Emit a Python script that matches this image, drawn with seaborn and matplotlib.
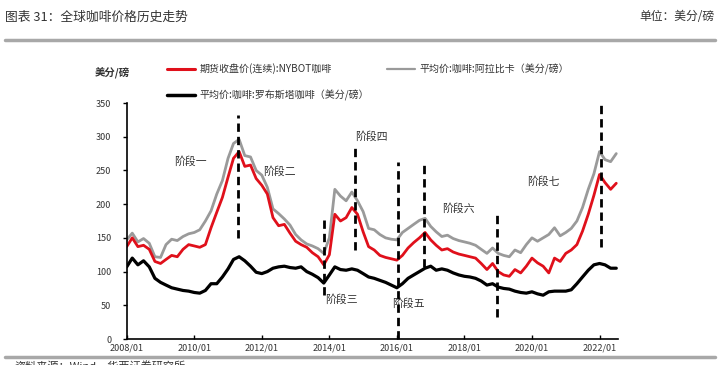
import numpy as np
import pandas as pd
import matplotlib
matplotlib.use("Agg")
import matplotlib.pyplot as plt
import matplotlib.dates as mdates
from matplotlib.lines import Line2D
import seaborn as sns

# bi-monthly readings, 2008/01 .. 2022/07
DATES = pd.date_range("2008-01-01", "2022-07-01", freq="2MS")

NYBOT = [137, 150, 137, 139, 133, 115,
         112, 118, 124, 122, 133, 140,
         138, 136, 140, 165, 188, 210,
         240, 268, 278, 256, 258, 238,
         228, 215, 180, 168, 170, 157,
         145, 140, 136, 128, 122, 110,
         125, 185, 175, 180, 195, 185,
         159, 137, 132, 124, 121, 119,
         117, 124, 135, 143, 150, 158,
         147, 139, 132, 134, 129, 126,
         124, 122, 120, 112, 103, 112,
         100, 95, 93, 103, 98, 108,
         120, 113, 108, 98, 120, 115,
         127, 132, 140, 160, 185, 213,
         244, 232, 222, 231]

ARABICA = [147, 157, 144, 149, 142, 122,
           121, 140, 148, 146, 152, 156,
           158, 162, 175, 190, 215, 235,
           268, 290, 296, 272, 270, 250,
           243, 225, 193, 186, 178, 169,
           155, 147, 141, 138, 134, 127,
           150, 222, 212, 205, 218, 205,
           189, 164, 162, 155, 150, 148,
           147, 158, 164, 170, 176, 179,
           167, 159, 152, 154, 149, 146,
           144, 142, 139, 133, 127, 135,
           127, 124, 122, 132, 128, 140,
           150, 145, 150, 155, 165, 153,
           158, 164, 175, 195, 222, 245,
           278, 266, 263, 275]

ROBUSTA = [107, 120, 110, 116, 107, 90,
           84, 80, 76, 74, 72, 71,
           69, 68, 72, 82, 82, 92,
           104, 118, 122, 116, 108, 99,
           97, 100, 105, 107, 108, 106,
           105, 107, 100, 96, 91, 83,
           95, 107, 103, 102, 104, 102,
           97, 92, 90, 87, 84, 80,
           76, 82, 90, 95, 100, 105,
           108, 102, 104, 102, 98, 95,
           93, 92, 90, 86, 80, 82,
           77, 75, 74, 71, 69, 68,
           70, 67, 65, 70, 71, 71,
           71, 73, 82, 92, 102, 110,
           112, 110, 105, 105]

SERIES_NAMES = ["期货收盘价(连续):NYBOT咖啡",
                "平均价:咖啡:阿拉比卡（美分/磅）",
                "平均价:咖啡:罗布斯塔咖啡（美分/磅）"]

# phase markers (dashed verticals)
PHASE_DATES = ["2011-04-15", "2013-11-01", "2014-10-10", "2016-01-10",
               "2016-10-25", "2018-12-15", "2022-01-20"]
PHASE_LOW = [150, 65, 132, 0, 107, 33, 137]
PHASE_HIGH = [332, 184, 283, 263, 258, 184, 350]

PHASE_LABELS = ["阶段一", "阶段二", "阶段三", "阶段四", "阶段五", "阶段六", "阶段七"]
LABEL_DATES = ["2009-11-15", "2012-07-15", "2014-05-15", "2015-04-01",
               "2016-05-01", "2017-11-01", "2020-05-01"]
LABEL_VALUES = [264, 248, 58, 301, 53, 193, 233]

X_TICKS = ["2008-01-01", "2010-01-01", "2012-01-01", "2014-01-01",
           "2016-01-01", "2018-01-01", "2020-01-01", "2022-01-01"]
Y_TICKS = [0, 50, 100, 150, 200, 250, 300, 350]

RED = "#e0101b"
GRAY = "#9a9a9a"
TEXT = "#333333"
W, H = 722, 365

sns.set_theme(style="white")
plt.rcParams["font.family"] = ["Noto Sans CJK SC", "DejaVu Sans"]

df = pd.DataFrame({"date": DATES, "nybot": NYBOT,
                   "arabica": ARABICA, "robusta": ROBUSTA})

fig = plt.figure(figsize=(7.22, 3.65), dpi=100)
ax = fig.add_axes([0.1755, 0.0712, 0.6805, 0.6466])

sns.lineplot(ax=ax, data=df, x="date", y="arabica", color=GRAY, linewidth=2)
sns.lineplot(ax=ax, data=df, x="date", y="nybot", color=RED, linewidth=2)
sns.lineplot(ax=ax, data=df, x="date", y="robusta", color="black", linewidth=2.3)

ax.vlines(pd.to_datetime(PHASE_DATES), PHASE_LOW, PHASE_HIGH, colors="black",
          linestyles=(0, (3, 1.8)), linewidth=2, clip_on=False, zorder=5)

for lab, d, v in zip(PHASE_LABELS, LABEL_DATES, LABEL_VALUES):
    ax.text(pd.Timestamp(d), v, lab, ha="center", va="center", fontsize=7.8, color=TEXT)

ax.set_xlim(pd.Timestamp("2008-01-01"), pd.Timestamp("2022-07-20"))
ax.set_ylim(0, 350)
ax.set_xticks(pd.to_datetime(X_TICKS))
ax.xaxis.set_major_formatter(mdates.DateFormatter("%Y/%m"))
ax.set_yticks(Y_TICKS)
ax.set_xlabel("")
ax.set_ylabel("")
for s in ["top", "right"]:
    ax.spines[s].set_visible(False)
for s in ["left", "bottom"]:
    ax.spines[s].set_color("black")
    ax.spines[s].set_linewidth(1.2)
ax.tick_params(axis="x", direction="in", length=3, width=1, colors="black",
               labelcolor=TEXT, labelsize=6.5, pad=3, bottom=True)
ax.tick_params(axis="y", direction="out", length=3, width=1, colors="black",
               labelcolor=TEXT, labelsize=6.5, pad=8, left=True)

# legend, laid out by hand like the source
legend_items = [(SERIES_NAMES[0], RED, 2.2, 167, 69),
                (SERIES_NAMES[1], GRAY, 1.6, 387, 69),
                (SERIES_NAMES[2], "black", 2.5, 167, 95)]
for name, col, lw, x0, y0 in legend_items:
    fig.add_artist(Line2D([x0 / W, (x0 + 28) / W], [1 - y0 / H] * 2, color=col, lw=lw))
    fig.text((x0 + 33) / W, 1 - y0 / H, name, fontsize=7.2, color=TEXT, va="center")
fig.text(95 / W, 1 - 72 / H, "美分/磅", fontsize=7.5, fontweight="bold", color=TEXT,
         va="center")

# header and footer
fig.text(0.007, 1 - 17 / H, "图表 31：全球咖啡价格历史走势", fontsize=9.2, color=TEXT, va="center")
fig.text(0.99, 1 - 17 / H, "单位：美分/磅", fontsize=8.5, color=TEXT, va="center", ha="right")
fig.add_artist(Line2D([0.007, 0.99], [1 - 40 / H] * 2, color="#a8a8a8", lw=2.5))
fig.add_artist(Line2D([0.007, 0.99], [1 - 357 / H] * 2, color="#a8a8a8", lw=2.5))
fig.text(0.02, 1 - 361 / H, "资料来源：Wind，华西证券研究所", fontsize=8, color=TEXT, va="top")

fig.savefig("out.png", dpi=100)
